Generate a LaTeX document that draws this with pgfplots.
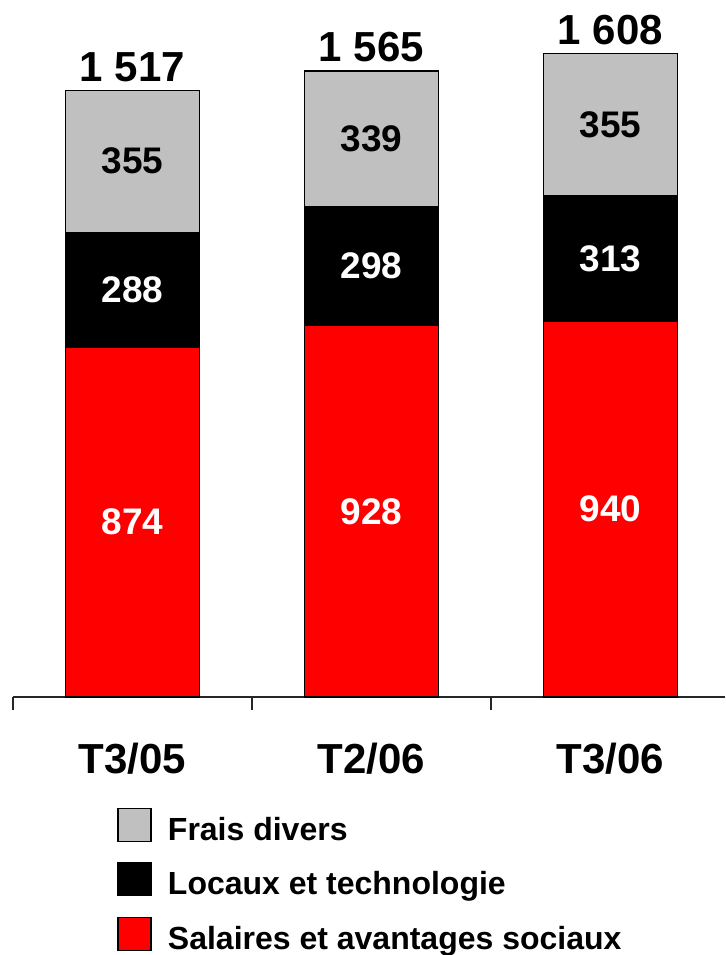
\documentclass[border=0pt]{standalone}
\usepackage{pgfplots}
\pgfplotsset{compat=1.18}
\usepackage{fontspec}
\setmainfont{Liberation Sans}
\definecolor{fraisgray}{RGB}{192,192,192}
\definecolor{salred}{RGB}{255,0,0}
\tikzset{seglabel/.style={anchor=center,
    font=\fontsize{18.5}{22}\selectfont\bfseries}}
\pgfplotsset{
  /pgf/number format/assume math mode=true,
  costframe/.style={
    at={(0,0)}, anchor=south west,
    scale only axis,
    width=356pt, height=348.5pt,
    xmin=-0.5, xmax=2.479,
    ymin=0, ymax=1742.5,
  },
}
\begin{document}
\begin{tikzpicture}
\begin{axis}[
  costframe,
  ybar stacked, bar width=67pt,
  axis x line=bottom, axis y line=none,
  x axis line style={-, line width=0.8pt, draw=black!85},
  xtick={0,1,2},
  xticklabels={T3/05,T2/06,T3/06},
  major tick length=0pt,
  minor xtick={-0.5,0.5,1.5},
  minor tick length=6.5pt,
  tick align=outside,
  minor tick style={line width=0.8pt, draw=black!85},
  xticklabel style={font=\fontsize{21}{25}\selectfont\bfseries, anchor=base, yshift=-38pt},
  legend style={draw=none, fill=none, at={(0.146,-0.158)}, anchor=north west,
    inner sep=0pt, font=\fontsize{16}{19}\selectfont\bfseries, row sep=7.5pt},
  legend cell align=left,
  reverse legend,
  legend image code/.code={%
    \draw[#1, draw=black, line width=0.6pt] (0pt,-5.5pt) rectangle (16.5pt,11pt);
    \path[draw=none, fill=none] (0pt,0pt) rectangle (23pt,0pt);},
]
% Salaires et avantages sociaux
\addplot[fill=salred, draw=black, line width=0.6pt,
  nodes near coords,
  every node near coord/.append style={seglabel, text=white}]
  coordinates {(0,874) (1,928) (2,940)};
\addlegendentry{Salaires et avantages sociaux}
% Locaux et technologie
\addplot[fill=black, draw=black, line width=0.6pt,
  nodes near coords,
  every node near coord/.append style={seglabel, text=white}]
  coordinates {(0,288) (1,298) (2,313)};
\addlegendentry{Locaux et technologie}
% Frais divers
\addplot[fill=fraisgray, draw=black, line width=0.6pt,
  nodes near coords,
  every node near coord/.append style={seglabel, text=black}]
  coordinates {(0,355) (1,339) (2,355)};
\addlegendentry{Frais divers}
\end{axis}
% totals above each bar
\begin{axis}[costframe, hide axis]
\addplot[only marks, mark=none,
  point meta=explicit symbolic,
  nodes near coords,
  every node near coord/.append style={anchor=base, text=black, yshift=4.5pt,
    font=\fontsize{21}{25}\selectfont\bfseries}]
  coordinates {(0,1517) [1 517] (1,1565) [1 565] (2,1608) [1 608]};
\end{axis}
\pgfresetboundingbox
\useasboundingbox (-6.5pt,-129pt) rectangle (356pt,348.5pt);
\end{tikzpicture}
\end{document}
